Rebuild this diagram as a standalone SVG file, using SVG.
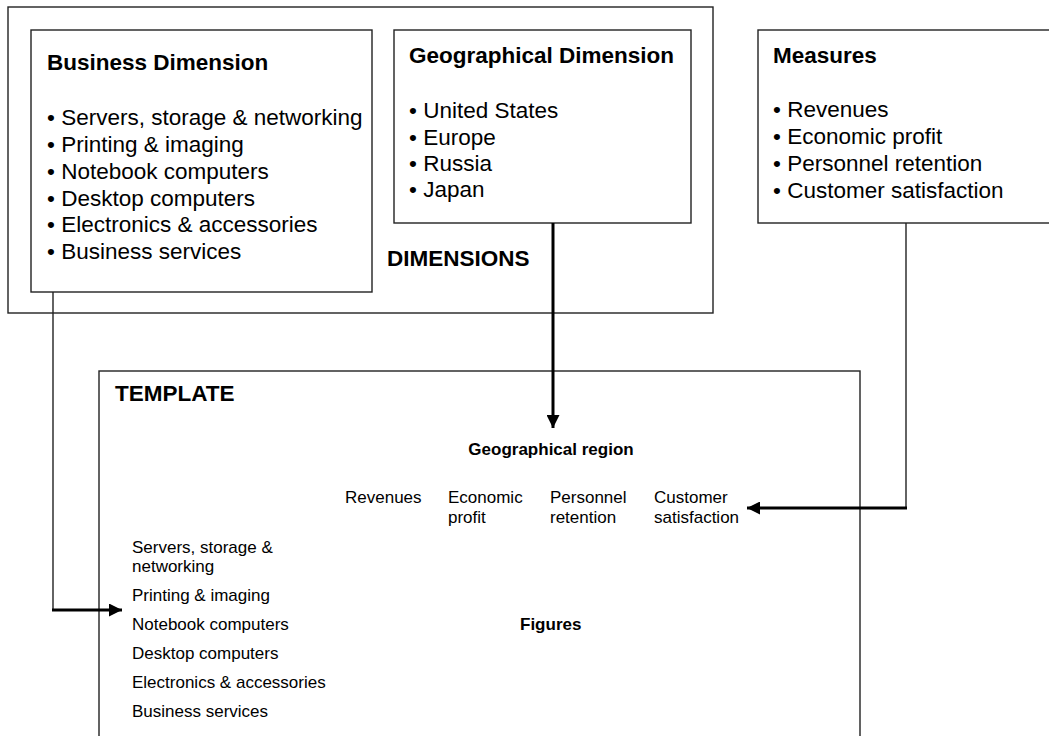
<svg xmlns="http://www.w3.org/2000/svg" width="1049" height="736" viewBox="0 0 1049 736">
  <style>
    .box { fill: #fff; stroke: #222; stroke-width: 1.4; }
    .title { font-family: "Liberation Sans", Arial, sans-serif; font-weight: bold; font-size: 22.5px; fill: #000; }
    .item { font-family: "Liberation Sans", Arial, sans-serif; font-size: 22.5px; fill: #000; }
    .label { font-family: "Liberation Sans", Arial, sans-serif; font-size: 17px; fill: #000; }
    .label-b { font-family: "Liberation Sans", Arial, sans-serif; font-size: 17px; font-weight: bold; fill: #000; }
    .thin { fill: none; stroke: #222; stroke-width: 1.4; }
    .thick { fill: none; stroke: #000; stroke-width: 3; }
  </style>
  <defs>
    <marker id="arrow" viewBox="0 0 12 12" refX="12" refY="6" markerWidth="13" markerHeight="13" markerUnits="userSpaceOnUse" orient="auto">
      <path d="M0,0 L12,6 L0,12 Z" fill="#000"/>
    </marker>
  </defs>

  <rect width="1049" height="736" fill="#fff"/>

  <!-- Dimensions container -->
  <g id="dimensions">
    <rect class="box" x="8" y="7" width="705" height="306"/>
    <text class="title" x="387" y="266">DIMENSIONS</text>
  </g>

  <!-- Business dimension -->
  <g id="business-dimension">
    <rect class="box" x="31" y="30" width="341" height="262"/>
    <text class="title" x="47" y="70">Business Dimension</text>
    <text class="item" x="47" y="125">• Servers, storage &amp; networking</text>
    <text class="item" x="47" y="152">• Printing &amp; imaging</text>
    <text class="item" x="47" y="179">• Notebook computers</text>
    <text class="item" x="47" y="205.5">• Desktop computers</text>
    <text class="item" x="47" y="232">• Electronics &amp; accessories</text>
    <text class="item" x="47" y="259">• Business services</text>
  </g>

  <!-- Geographical dimension -->
  <g id="geographical-dimension">
    <rect class="box" x="394" y="30" width="297" height="193"/>
    <text class="title" x="409" y="63">Geographical Dimension</text>
    <text class="item" x="409" y="118">• United States</text>
    <text class="item" x="409" y="145">• Europe</text>
    <text class="item" x="409" y="171">• Russia</text>
    <text class="item" x="409" y="197">• Japan</text>
  </g>

  <!-- Measures -->
  <g id="measures">
    <rect class="box" x="758" y="30" width="300" height="193"/>
    <text class="title" x="773" y="63">Measures</text>
    <text class="item" x="773" y="117">• Revenues</text>
    <text class="item" x="773" y="144">• Economic profit</text>
    <text class="item" x="773" y="171">• Personnel retention</text>
    <text class="item" x="773" y="198">• Customer satisfaction</text>
  </g>

  <!-- Template -->
  <g id="template">
    <rect class="box" x="99" y="371" width="761" height="380"/>
    <text class="title" x="115" y="401">TEMPLATE</text>
    <text class="label-b" x="551" y="455" text-anchor="middle">Geographical region</text>
    <text class="label" x="345" y="503">Revenues</text>
    <text class="label" x="448" y="503">Economic</text>
    <text class="label" x="448" y="523">profit</text>
    <text class="label" x="550" y="503">Personnel</text>
    <text class="label" x="550" y="523">retention</text>
    <text class="label" x="654" y="503">Customer</text>
    <text class="label" x="654" y="523">satisfaction</text>
    <text class="label" x="132" y="553">Servers, storage &amp;</text>
    <text class="label" x="132" y="572">networking</text>
    <text class="label" x="132" y="601">Printing &amp; imaging</text>
    <text class="label" x="132" y="630">Notebook computers</text>
    <text class="label" x="132" y="659">Desktop computers</text>
    <text class="label" x="132" y="688">Electronics &amp; accessories</text>
    <text class="label" x="132" y="717">Business services</text>
    <text class="label-b" x="520" y="630">Figures</text>
  </g>

  <!-- Connectors -->
  <g id="connectors">
    <!-- business dimension to row labels -->
    <path class="thin" d="M53,292 V610"/>
    <path class="thick" d="M52,610 H122" marker-end="url(#arrow)"/>
    <!-- geographical dimension to region header -->
    <path class="thick" d="M553,223 V428" marker-end="url(#arrow)"/>
    <!-- measures to column headers -->
    <path class="thin" d="M906,223 V508"/>
    <path class="thick" d="M907,508 H747" marker-end="url(#arrow)"/>
  </g>
</svg>
